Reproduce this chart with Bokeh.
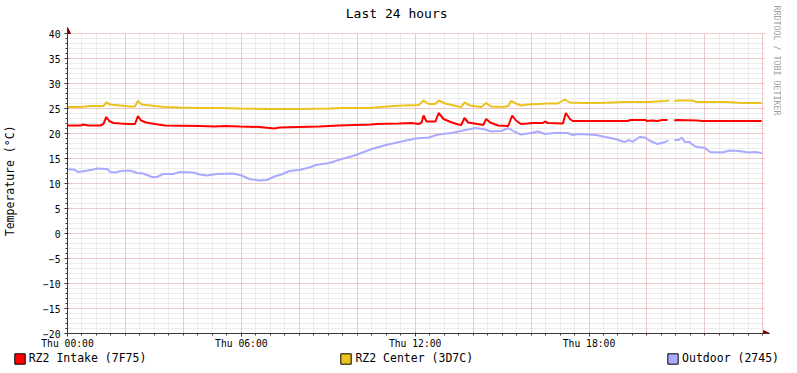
import numpy as np
from bokeh.plotting import figure
from bokeh.layouts import column
from bokeh.models import (FixedTicker, Grid, Legend, LegendItem, Arrow, NormalHead,
                          Range1d, Label)
from bokeh.embed import file_html
from bokeh.resources import INLINE

nan = float("nan")

# ---------------- data (hours since Thu 00:00, degrees C) ----------------
intake_t = [0, 0.45, 0.55, 0.72, 1.13, 1.24, 1.34, 1.44, 1.58, 1.82, 2.09, 2.33, 2.43, 2.54,
            2.71, 3.02, 3.36, 4.57, 5.08, 5.42, 5.94, 6.63, 7.14, 7.31, 8.00, 8.69, 9.37,
            10.47, 10.68, 11.43, 11.88, 12.12, 12.22, 12.29, 12.39, 12.70, 12.81, 12.98,
            13.22, 13.49, 13.59, 13.70, 13.83, 14.25, 14.35, 14.45, 14.59, 14.86, 15.21,
            15.35, 15.48, 15.65, 15.89, 16.07, 16.41, 16.48, 16.58, 17.10, 17.20, 17.34,
            17.44, 18.30, 19.33, 19.43, 19.94, 20.01, 20.19, 20.36, 20.53, 20.71, 20.86,
            20.94, 21.04, 21.73, 21.90, 22.42, 23.96]
intake_v = [21.6, 21.6, 21.8, 21.6, 21.6, 21.9, 23.3, 22.5, 22.1, 22.0, 21.9, 21.9, 23.5, 22.6,
            22.2, 21.9, 21.6, 21.5, 21.4, 21.5, 21.4, 21.3, 21.0, 21.2, 21.3, 21.4, 21.6,
            21.8, 21.9, 22.0, 22.1, 21.9, 22.2, 23.6, 22.4, 22.4, 24.1, 22.9,
            22.3, 21.8, 21.7, 23.1, 22.2, 21.8, 21.7, 22.9, 22.2, 21.6, 21.5,
            23.6, 22.6, 21.9, 22.0, 22.1, 22.1, 22.4, 22.1, 22.0, 24.1, 22.9,
            22.5, 22.5, 22.5, 22.7, 22.7, 22.5, 22.6, 22.5, 22.7, 22.7, nan,
            22.6, 22.7, 22.6, 22.5, 22.5, 22.5]

center_t = [0, 0.45, 0.79, 1.24, 1.34, 1.48, 1.82, 2.16, 2.33, 2.43, 2.57, 3.02, 3.36, 3.88,
            4.57, 5.25, 5.94, 6.97, 8.00, 9.03, 9.54, 10.40, 10.81, 11.26, 11.60, 12.12,
            12.29, 12.46, 12.70, 12.81, 13.04, 13.49, 13.59, 13.70, 13.90, 14.28, 14.45,
            14.62, 15.04, 15.21, 15.31, 15.48, 15.65, 15.89, 16.24, 16.58, 16.92, 17.16,
            17.34, 17.78, 18.30, 19.26, 20.01, 20.64, 20.77, 20.86, 20.94, 21.07, 21.56,
            21.73, 22.76, 23.28, 23.96]
center_v = [25.3, 25.3, 25.5, 25.5, 26.2, 25.8, 25.6, 25.4, 25.4, 26.5, 25.8, 25.5, 25.3, 25.2,
            25.1, 25.1, 25.0, 24.9, 24.9, 25.0, 25.1, 25.1, 25.3, 25.5, 25.6, 25.7,
            26.6, 25.9, 25.9, 26.6, 26.0, 25.4, 25.3, 26.2, 25.6, 25.3, 26.1,
            25.4, 25.3, 25.5, 26.5, 26.0, 25.6, 25.8, 25.9, 26.0, 26.0, 26.8,
            26.2, 26.1, 26.1, 26.3, 26.3, 26.5, 26.6, nan, 26.5, 26.6, 26.6,
            26.3, 26.3, 26.1, 26.1]

outdoor_t = [0, 0.21, 0.38, 0.69, 0.89, 1.03, 1.37, 1.48, 1.65, 1.82, 2.16, 2.40, 2.61, 2.92,
             3.09, 3.30, 3.64, 3.88, 4.33, 4.57, 4.81, 5.15, 5.70, 6.01, 6.28, 6.63, 6.87,
             7.14, 7.38, 7.66, 8.00, 8.34, 8.58, 9.03, 9.47, 9.96, 10.50, 10.99, 11.53,
             12.02, 12.46, 12.81, 13.25, 13.73, 14.08, 14.42, 14.62, 14.97, 15.21, 15.45,
             15.65, 16.00, 16.24, 16.48, 16.82, 17.27, 17.44, 17.61, 17.95, 18.23, 18.57,
             18.91, 19.22, 19.40, 19.50, 19.74, 19.94, 20.08, 20.36, 20.64, 20.74, 20.86,
             20.94, 21.09, 21.20, 21.31, 21.46, 21.66, 22.00, 22.18, 22.59, 22.86, 23.17,
             23.52, 23.72, 23.96]
outdoor_v = [12.8, 12.8, 12.3, 12.6, 12.8, 13.0, 12.9, 12.3, 12.2, 12.5, 12.6, 12.1, 12.0, 11.3,
             11.3, 11.9, 11.9, 12.3, 12.2, 11.8, 11.6, 11.9, 12.0, 11.6, 10.9, 10.6, 10.7,
             11.4, 11.8, 12.5, 12.7, 13.2, 13.7, 14.1, 14.9, 15.7, 16.9, 17.7, 18.4,
             19.0, 19.2, 19.8, 20.1, 20.7, 21.1, 20.8, 20.4, 20.5, 21.1, 20.3,
             19.8, 20.1, 20.4, 19.9, 20.1, 20.1, 19.7, 19.9, 19.8, 19.7, 19.3,
             18.9, 18.3, 18.7, 18.3, 19.3, 19.2, 18.6, 17.9, 18.3, 18.7, nan,
             18.7, 18.7, 19.2, 18.3, 18.3, 17.4, 17.1, 16.3, 16.2, 16.6, 16.5,
             16.2, 16.3, 16.1]

series_names = ["RZ2 Intake (7F75)", "RZ2 Center (3D7C)", "Outdoor (2745)"]
series_colors = ["#FF0000", "#EAC31F", "#AAAAFF"]

x_tick_hours = [0, 6, 12, 18]
x_tick_labels = ["Thu 00:00", "Thu 06:00", "Thu 12:00", "Thu 18:00"]
y_ticks = list(range(-20, 41, 5))

title_text = "Last 24 hours"
y_label_text = "Temperature (°C)"
watermark_text = "RRDTOOL / TOBI OETIKER"

x_end = 24.06
y_start, y_end = -20, 40

MONO = "DejaVu Sans Mono"
AXIS_COLOR = "#3a3a3a"
ARROW_COLOR = "#7F0000"

# ---------------- geometry (px) ----------------
W = 781
MAIN_H, LEG_H = 352, 13
LEFT, BOTTOM = 63, 19                 # side panels for the axes
DATA_W, DATA_H = 701, 300             # size of the data area
FRAME_W, FRAME_H = W - LEFT, MAIN_H - BOTTOM
px_h = DATA_W / x_end                 # px per hour
px_v = DATA_H / (y_end - y_start)     # px per degree
x_pad = 5 / px_h                      # arrow head room
y_pad = 6 / px_v


def fx(px):   # frame-pixel -> hours
    return px / px_h


def fy(px_from_top):   # frame-pixel (from top) -> degrees
    return y_start + (FRAME_H - px_from_top) / px_v


# ---------------- main figure ----------------
p = figure(width=W, height=MAIN_H,
           x_range=Range1d(0, FRAME_W / px_h), y_range=Range1d(y_start, y_start + FRAME_H / px_v),
           output_backend="svg", toolbar_location=None,
           min_border_left=LEFT, min_border_right=0, min_border_top=0, min_border_bottom=BOTTOM,
           background_fill_color="white", border_fill_color="white")
p.outline_line_color = None
p.grid.visible = False
p.frame_align = False

# grids (minor gray, major red), limited to the data area
minor_x = list(np.arange(0, x_end, 0.5))
major_x = list(np.arange(0, x_end, 2))
minor_y = list(range(y_start, y_end + 1))
for dim, ticks, col in ((0, minor_x, "#dadada"), (1, minor_y, "#dadada"),
                        (0, major_x, "#eca4a4"), (1, y_ticks, "#eca4a4")):
    cb = (y_start, y_end) if dim == 0 else (0, x_end)
    p.add_layout(Grid(dimension=dim, ticker=FixedTicker(ticks=ticks), cross_bounds=cb,
                      grid_line_color=col, grid_line_dash="1 1", grid_line_width=1))

# axes
p.xaxis.ticker = FixedTicker(ticks=x_tick_hours, minor_ticks=minor_x)
p.xaxis.major_label_overrides = dict(zip(x_tick_hours, x_tick_labels))
p.xaxis.bounds = (0, x_end + x_pad)
p.yaxis.ticker = FixedTicker(ticks=y_ticks, minor_ticks=minor_y)
p.yaxis.bounds = (y_start, y_end + y_pad)
for ax in (p.xaxis, p.yaxis):
    ax.axis_line_color = AXIS_COLOR
    ax.major_tick_line_color = AXIS_COLOR
    ax.minor_tick_line_color = AXIS_COLOR
    ax.major_tick_out = 3
    ax.major_tick_in = 1
    ax.minor_tick_out = 2
    ax.minor_tick_in = 0
    ax.major_label_text_font = MONO
    ax.major_label_text_font_size = "9.7px"
    ax.major_label_text_color = "black"
p.xaxis.major_label_standoff = 1
p.yaxis.major_label_standoff = 4
# the label is centred on the (taller) frame: trailing no-break spaces move the
# visible words down to the middle of the data area
p.yaxis.axis_label = y_label_text + "\u00a0" * 4
p.yaxis.axis_label_text_font = MONO
p.yaxis.axis_label_text_font_size = "11.5px"
p.yaxis.axis_label_text_font_style = "normal"
p.yaxis.axis_label_text_color = "black"
p.yaxis.axis_label_standoff = 23

# data lines
for t, v, c in ((outdoor_t, outdoor_v, series_colors[2]),
                (center_t, center_v, series_colors[1]),
                (intake_t, intake_v, series_colors[0])):
    p.line(t, v, line_color=c, line_width=2)

# arrows at the axis ends
p.add_layout(Arrow(end=NormalHead(size=6, fill_color=ARROW_COLOR, line_color=ARROW_COLOR),
                   x_start=0, y_start=y_start, x_end=0, y_end=y_end + y_pad,
                   line_color=AXIS_COLOR))
p.add_layout(Arrow(end=NormalHead(size=6, fill_color=ARROW_COLOR, line_color=ARROW_COLOR),
                   x_start=0, y_start=y_start, x_end=x_end + x_pad, y_end=y_start,
                   line_color=AXIS_COLOR))

# title and watermark (inside the enlarged frame)
p.add_layout(Label(x=fx(394 - LEFT), y=fy(13), text=title_text,
                   text_font=MONO, text_font_size="13px", text_align="center",
                   text_baseline="middle", text_color="black"))
p.add_layout(Label(x=fx(776 - LEFT), y=fy(60), text=watermark_text, angle=-np.pi / 2,
                   text_font=MONO, text_font_size="8.3px", text_align="center",
                   text_baseline="middle", text_color="#a0a0a0"))

# ---------------- legend strip ----------------
lf = figure(width=W, height=LEG_H, x_range=Range1d(0, 1), y_range=Range1d(0, 1),
            output_backend="svg", toolbar_location=None, min_border=0,
            x_axis_location=None, y_axis_location=None,
            background_fill_color="white", border_fill_color="white")
lf.outline_line_color = None
lf.grid.visible = False
lf.frame_align = False
items = []
for name, color in zip(series_names, series_colors):
    # swatch-only renderer: one undefined (NaN) box, so only the legend shows it
    r = lf.quad(left=[nan], right=[nan], top=[nan], bottom=[nan], fill_color=color,
                line_color="black", line_width=1)
    items.append(LegendItem(label=name, renderers=[r]))
legend = Legend(items=items, orientation="horizontal", location=(12.7, 0), spacing=193,
                padding=0, margin=0, glyph_width=13, glyph_height=13, label_height=13,
                label_standoff=3, label_text_font=MONO, label_text_font_size="11.5px",
                label_text_color="black", border_line_color=None, background_fill_alpha=0)
lf.add_layout(legend)

layout = column(p, lf, spacing=0)
open("out.html", "w").write(file_html(layout, INLINE))
